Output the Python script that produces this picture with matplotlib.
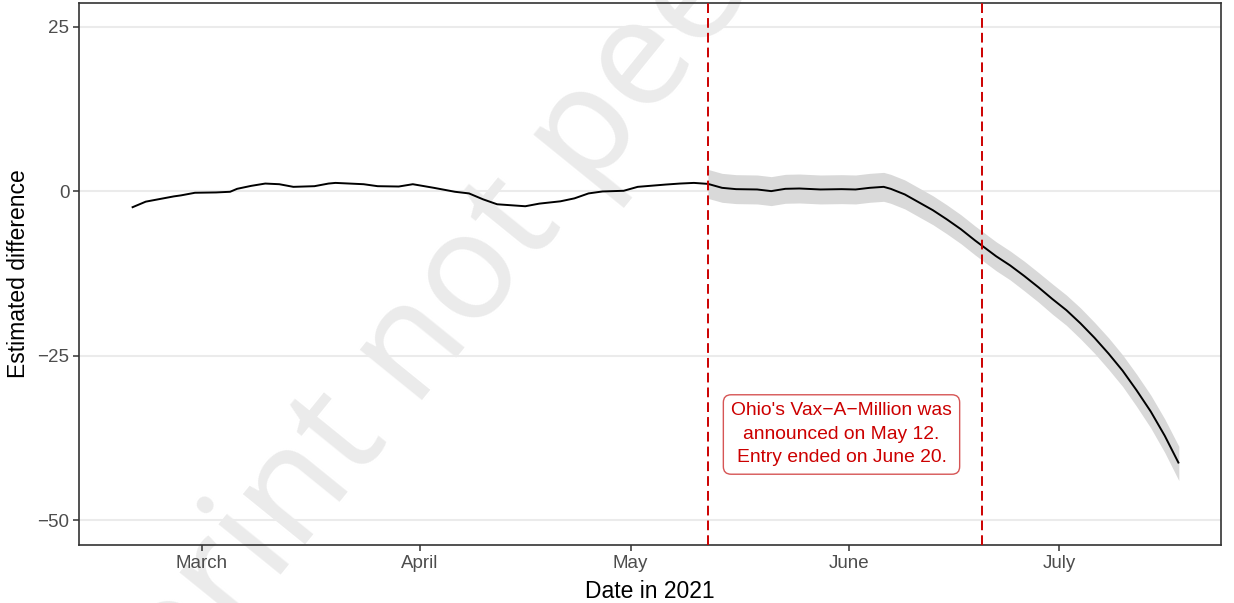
import matplotlib
matplotlib.use("Agg")
import matplotlib.pyplot as plt
import pandas as pd

# ---------------- data ----------------
pre_dates = ["2021-02-19", "2021-02-21", "2021-02-23", "2021-02-25", "2021-02-26",
             "2021-02-28", "2021-03-03", "2021-03-05", "2021-03-06", "2021-03-08",
             "2021-03-10", "2021-03-12", "2021-03-14", "2021-03-17", "2021-03-19",
             "2021-03-20", "2021-03-24", "2021-03-26", "2021-03-29", "2021-03-31",
             "2021-04-03", "2021-04-06", "2021-04-08", "2021-04-10", "2021-04-12",
             "2021-04-16", "2021-04-18", "2021-04-21", "2021-04-23", "2021-04-25",
             "2021-04-27", "2021-04-30", "2021-05-02", "2021-05-06", "2021-05-08",
             "2021-05-10", "2021-05-12"]
pre_values = [-2.5, -1.6, -1.2, -0.8, -0.65,
              -0.25, -0.2, -0.1, 0.35, 0.8,
              1.15, 1.05, 0.65, 0.75, 1.15,
              1.25, 1.05, 0.75, 0.7, 1.05,
              0.5, -0.1, -0.35, -1.25, -2.0,
              -2.3, -1.9, -1.55, -1.1, -0.35,
              -0.05, 0.05, 0.65, 1.0, 1.15,
              1.25, 1.1]

post_dates = ["2021-05-12", "2021-05-14", "2021-05-16", "2021-05-19", "2021-05-21",
              "2021-05-23", "2021-05-25", "2021-05-28", "2021-05-31", "2021-06-02",
              "2021-06-04", "2021-06-06", "2021-06-07", "2021-06-09", "2021-06-11",
              "2021-06-13", "2021-06-15", "2021-06-17", "2021-06-19", "2021-06-20",
              "2021-06-22", "2021-06-24", "2021-06-26", "2021-06-28", "2021-06-30",
              "2021-07-02", "2021-07-04", "2021-07-06", "2021-07-08", "2021-07-10",
              "2021-07-12", "2021-07-14", "2021-07-16", "2021-07-18"]
post_values = [1.1, 0.5, 0.3, 0.25, 0.0,
               0.35, 0.4, 0.25, 0.3, 0.25,
               0.5, 0.65, 0.35, -0.5, -1.7,
               -2.9, -4.3, -5.8, -7.5, -8.3,
               -9.9, -11.3, -12.9, -14.6, -16.4,
               -18.1, -20.1, -22.3, -24.7, -27.3,
               -30.3, -33.5, -37.2, -41.4]
post_upper = [3.3, 2.7, 2.5, 2.45, 2.2,
              2.55, 2.6, 2.45, 2.5, 2.45,
              2.7, 2.85, 2.55, 1.7, 0.5,
              -0.7, -2.1, -3.6, -5.3, -6.1,
              -7.7, -9.1, -10.65, -12.35, -14.1,
              -15.8, -17.75, -19.95, -22.3, -24.9,
              -27.85, -31.0, -34.65, -38.8]
post_lower = [-1.1, -1.7, -1.9, -1.95, -2.2,
              -1.85, -1.8, -1.95, -1.9, -1.95,
              -1.7, -1.55, -1.85, -2.7, -3.9,
              -5.1, -6.5, -8.0, -9.7, -10.5,
              -12.1, -13.5, -15.15, -16.85, -18.7,
              -20.4, -22.45, -24.65, -27.1, -29.7,
              -32.75, -36.0, -39.75, -44.0]

event_dates = ["2021-05-12", "2021-06-20"]
annotation_date = "2021-05-31"
annotation_y = -37
annotation_text = "Ohio's Vax\u2212A\u2212Million was\nannounced on May 12.\nEntry ended on June 20."

month_ticks = ["2021-03-01", "2021-04-01", "2021-05-01", "2021-06-01", "2021-07-01"]
month_labels = ["March", "April", "May", "June", "July"]
y_ticks = [25, 0, -25, -50]
y_tick_labels = ["25", "0", "\u221225", "\u221250"]
x_limits = ["2021-02-11 12:00", "2021-07-24 00:00"]
y_limits = [-53.8, 28.6]

watermark = "Preprint not peer reviewed"

# ---------------- plot ----------------
plt.rcParams['font.family'] = ['Liberation Sans', 'DejaVu Sans']

fig = plt.figure(figsize=(12.34, 6.03), dpi=100)
ax = fig.add_axes([79/1234, 1 - 545/603, (1221 - 79)/1234, (545 - 3)/603])

red = "#cc0000"
dark = "#333333"

pre_x = pd.to_datetime(pre_dates)
post_x = pd.to_datetime(post_dates)

ax.fill_between(post_x, post_lower, post_upper, color="#d9d9d9", linewidth=0, zorder=2)
ax.plot(pre_x, pre_values, color="black", lw=1.4, zorder=3, solid_capstyle="butt")
ax.plot(post_x, post_values, color="black", lw=1.4, zorder=3, solid_capstyle="butt")

for d in event_dates:
    ax.axvline(pd.Timestamp(d), color=red, lw=1.4, linestyle=(0, (5, 2.6)), zorder=4)

ax.text(pd.Timestamp(annotation_date), annotation_y, annotation_text,
        ha="center", va="center", color=red, fontsize=13.9, linespacing=1.5,
        zorder=5,
        bbox=dict(boxstyle="round,pad=0.4,rounding_size=0.4", facecolor="white",
                  edgecolor="#d65555", linewidth=1.0))

ax.set_xlim(pd.Timestamp(x_limits[0]), pd.Timestamp(x_limits[1]))
ax.set_ylim(*y_limits)

ax.set_xticks(pd.to_datetime(month_ticks))
ax.set_xticklabels(month_labels)
ax.set_yticks(y_ticks)
ax.set_yticklabels(y_tick_labels)

ax.grid(axis="y", color="#ebebeb", lw=1.5)
ax.grid(axis="x", visible=False)
ax.set_axisbelow(True)

for sp in ax.spines.values():
    sp.set_color(dark)
    sp.set_linewidth(1.2)

ax.tick_params(axis="both", colors=dark, length=4, width=1.1, labelsize=13.5,
               labelcolor="#4d4d4d", pad=3)

ax.set_xlabel("Date in 2021", fontsize=16.5, color="black", labelpad=6)
ax.set_ylabel("Estimated difference", fontsize=16.5, color="black", labelpad=5)

# watermark (beneath axis text and grid)
ax.text(0.480, 0.790, watermark, transform=fig.transFigure, rotation=51,
        rotation_mode="anchor", ha="center", va="center",
        fontsize=108, color="#ebebeb", family=["Noto Sans", "DejaVu Sans"],
        zorder=0.2, clip_on=False)

fig.savefig("out.png", dpi=100)
